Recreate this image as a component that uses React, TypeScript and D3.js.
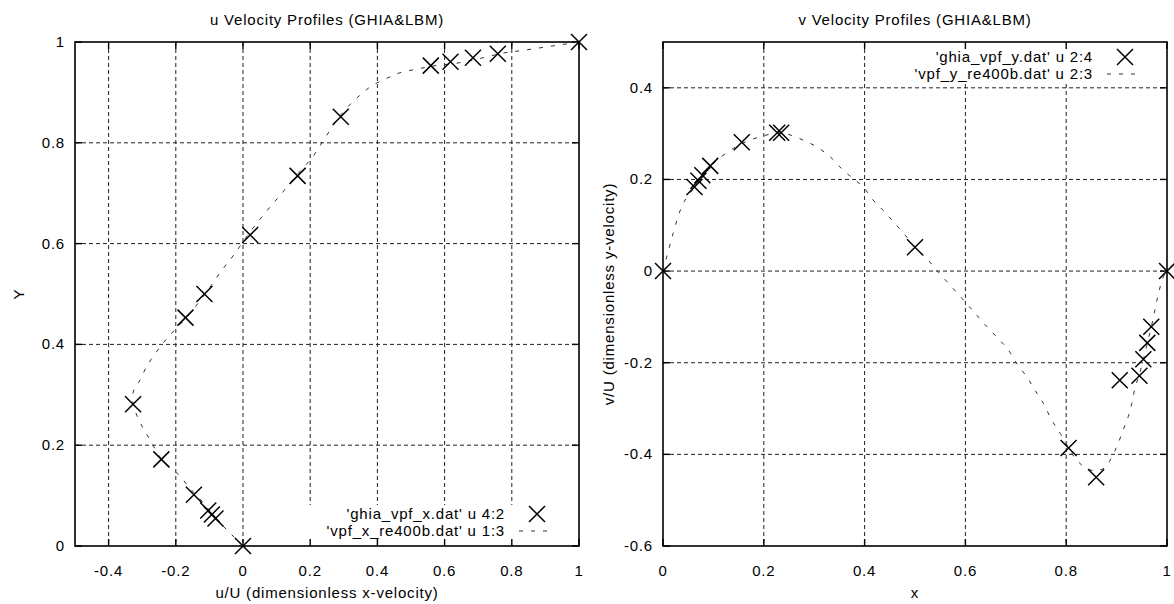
import React from "react";
import * as d3 from "d3";

// ---------- Data ----------
// Ghia et al. (Re=400) u-velocity on vertical centerline
const ghiaUY = [1.0, 0.9766, 0.9688, 0.9609, 0.9531, 0.8516, 0.7344, 0.6172, 0.5, 0.4531, 0.2813, 0.1719, 0.1016, 0.0703, 0.0625, 0.0547, 0.0];
const ghiaU = [1.0, 0.75837, 0.68439, 0.61756, 0.55892, 0.29093, 0.16256, 0.02135, -0.11477, -0.17119, -0.32726, -0.24299, -0.14612, -0.10338, -0.09266, -0.08186, 0.0];
// Ghia et al. (Re=400) v-velocity on horizontal centerline
const ghiaVX = [1.0, 0.9688, 0.9609, 0.9531, 0.9453, 0.9063, 0.8594, 0.8047, 0.5, 0.2344, 0.2266, 0.1563, 0.0938, 0.0781, 0.0703, 0.0625, 0.0];
const ghiaV = [0.0, -0.12146, -0.15663, -0.19254, -0.22847, -0.23827, -0.44993, -0.38598, 0.05186, 0.30174, 0.30203, 0.28124, 0.22965, 0.2092, 0.19713, 0.1836, 0.0];

// LBM profile u
const lbmU = [0, -0.033, -0.077, -0.117, -0.157, -0.191, -0.241, -0.276, -0.3, -0.322, -0.329, -0.322, -0.31, -0.287, -0.261, -0.226, -0.166, -0.112, -0.062, -0.028, 0.022, 0.081, 0.111, 0.16, 0.205, 0.235, 0.259, 0.283, 0.314, 0.349, 0.383, 0.428, 0.467, 0.517, 0.56, 0.636, 0.71, 0.774, 0.829, 0.9, 1.0];
const lbmUY = [0, 0.022, 0.052, 0.085, 0.114, 0.141, 0.171, 0.21, 0.237, 0.27, 0.295, 0.315, 0.325, 0.356, 0.382, 0.412, 0.455, 0.501, 0.548, 0.577, 0.624, 0.673, 0.696, 0.736, 0.77, 0.8, 0.825, 0.848, 0.873, 0.895, 0.913, 0.928, 0.939, 0.946, 0.952, 0.958, 0.968, 0.978, 0.983, 0.99, 1.0];

// LBM profile v
const lbmVX = [0, 0.011, 0.02, 0.03, 0.04, 0.054, 0.07, 0.09, 0.107, 0.14, 0.16, 0.192, 0.232, 0.25, 0.278, 0.305, 0.331, 0.354, 0.377, 0.397, 0.417, 0.44, 0.46, 0.48, 0.5, 0.523, 0.543, 0.6, 0.64, 0.685, 0.702, 0.722, 0.738, 0.755, 0.771, 0.788, 0.805, 0.821, 0.84, 0.858, 0.875, 0.887, 0.9, 0.913, 0.923, 0.93, 0.937, 0.945, 0.953, 0.96, 0.969, 0.976, 0.983, 0.993, 1.0];
const lbmV = [0, 0.046, 0.082, 0.119, 0.148, 0.17, 0.197, 0.222, 0.242, 0.268, 0.28, 0.293, 0.302, 0.298, 0.286, 0.271, 0.25, 0.224, 0.202, 0.184, 0.155, 0.129, 0.104, 0.079, 0.052, 0.028, 0.002, -0.068, -0.118, -0.172, -0.202, -0.231, -0.26, -0.289, -0.325, -0.354, -0.386, -0.413, -0.43, -0.436, -0.43, -0.413, -0.384, -0.347, -0.318, -0.289, -0.253, -0.226, -0.193, -0.162, -0.121, -0.085, -0.049, -0.012, 0];

const uXTicks = [-0.4, -0.2, 0, 0.2, 0.4, 0.6, 0.8, 1];
const uYTicks = [0, 0.2, 0.4, 0.6, 0.8, 1];
const vXTicks = [0, 0.2, 0.4, 0.6, 0.8, 1];
const vYTicks = [-0.6, -0.4, -0.2, 0, 0.2, 0.4];

const titles = ["u Velocity Profiles (GHIA&LBM)", "v Velocity Profiles (GHIA&LBM)"];
const xLabels = ["u/U (dimensionless x-velocity)", "x"];
const yLabels = ["Y", "v/U (dimensionless y-velocity)"];
const legendGhia = ["'ghia_vpf_x.dat' u 4:2", "'ghia_vpf_y.dat' u 2:4"];
const legendLbm = ["'vpf_x_re400b.dat' u 1:3", "'vpf_y_re400b.dat' u 2:3"];

const FONT = "'Liberation Sans', Arial, Helvetica, sans-serif";
const FS = 15;
const LS = "0.8px";

type PanelProps = {
  left: number; right: number; top: number; bottom: number;
  xDomain: [number, number]; yDomain: [number, number];
  xTicks: number[]; yTicks: number[];
  px: number[]; py: number[]; lx: number[]; ly: number[];
  title: string; xLabel: string; yLabel: string;
  legA: string; legB: string; legendPos: "top" | "bottom";
  yLabelX: number; boxLeft: number;
};

function fmt(v: number) {
  const r = Math.round(v * 10) / 10;
  return r === 0 ? "0" : String(r);
}

function Panel(p: PanelProps) {
  const x = d3.scaleLinear().domain(p.xDomain).range([p.left, p.right]);
  const y = d3.scaleLinear().domain(p.yDomain).range([p.bottom, p.top]);
  const pts = p.lx.map((v, i) => [x(v), y(p.ly[i])] as [number, number]);
  const line = d3.line().curve(d3.curveCatmullRom.alpha(0.5))(pts) || "";
  const tickLen = 7;
  const grid = "#222";
  const cx = (p.left + p.right) / 2;
  const cy = (p.top + p.bottom) / 2;
  const rowA = p.legendPos === "top" ? p.top + 15 : p.bottom - 32;
  const rowB = rowA + 17;
  const textRight = p.right - 74;
  const markX = p.right - 42;
  const boxTop = p.legendPos === "top" ? p.top + 1 : rowA - 9;
  const boxBot = p.legendPos === "top" ? rowB + 9 : p.bottom - 1;
  const X = (cxp: number, cyp: number, k: number, s = 8) => (
    <path key={k} d={`M${cxp - s},${cyp - s}L${cxp + s},${cyp + s}M${cxp - s},${cyp + s}L${cxp + s},${cyp - s}`} stroke="#000" strokeWidth={1.5} fill="none" />
  );
  return (
    <g fontFamily={FONT} fontSize={FS} letterSpacing={LS}>
      <text x={cx} y={25} textAnchor="middle">{p.title}</text>
      {/* grid */}
      {p.xTicks.filter(t => x(t) > p.left + 1 && x(t) < p.right - 1).map((t, i) => (
        <line key={"gx" + i} x1={x(t)} x2={x(t)} y1={p.top} y2={p.bottom} stroke={grid} strokeWidth={1} strokeDasharray="4,3" />
      ))}
      {p.yTicks.filter(t => y(t) > p.top + 1 && y(t) < p.bottom - 1).map((t, i) => (
        <line key={"gy" + i} x1={p.left} x2={p.right} y1={y(t)} y2={y(t)} stroke={grid} strokeWidth={1} strokeDasharray="4,3" />
      ))}
      {/* opaque key box */}
      <rect x={p.boxLeft} y={boxTop} width={p.right - 1 - p.boxLeft} height={boxBot - boxTop} fill="#fff" />
      {/* border */}
      <rect x={p.left} y={p.top} width={p.right - p.left} height={p.bottom - p.top} fill="none" stroke="#000" strokeWidth={1.6} />
      {/* ticks */}
      {p.xTicks.map((t, i) => (
        <g key={"tx" + i}>
          <line x1={x(t)} x2={x(t)} y1={p.bottom} y2={p.bottom - tickLen} stroke="#000" strokeWidth={1.4} />
          <line x1={x(t)} x2={x(t)} y1={p.top} y2={p.top + tickLen} stroke="#000" strokeWidth={1.4} />
          <text x={x(t)} y={576} textAnchor="middle">{fmt(t)}</text>
        </g>
      ))}
      {p.yTicks.map((t, i) => (
        <g key={"ty" + i}>
          <line x1={p.left} x2={p.left + tickLen} y1={y(t)} y2={y(t)} stroke="#000" strokeWidth={1.4} />
          <line x1={p.right} x2={p.right - tickLen} y1={y(t)} y2={y(t)} stroke="#000" strokeWidth={1.4} />
          <text x={p.left - 10} y={y(t) + 5} textAnchor="end">{fmt(t)}</text>
        </g>
      ))}
      {/* axis labels */}
      <text x={cx} y={598} textAnchor="middle">{p.xLabel}</text>
      <text transform={`translate(${p.yLabelX},${cy}) rotate(-90)`} textAnchor="middle">{p.yLabel}</text>
      {/* LBM curve */}
      <path d={line} fill="none" stroke="#333" strokeWidth={1} strokeDasharray="4,8" />
      {/* Ghia markers */}
      {p.px.map((v, i) => X(x(v), y(p.py[i]), i))}
      {/* legend */}
      <text x={textRight} y={rowA + 5} textAnchor="end">{p.legA}</text>
      {X(markX, rowA, 999)}
      <text x={textRight} y={rowB + 5} textAnchor="end">{p.legB}</text>
      <line x1={markX - 18} x2={markX + 17} y1={rowB} y2={rowB} stroke="#333" strokeWidth={1} strokeDasharray="4,8" />
    </g>
  );
}

export default function App() {
  return (
    <svg width={1174} height={604} style={{ position: "absolute", left: 0, top: 0, background: "#fff" }}>
      <rect width={1174} height={604} fill="#fff" />
      <Panel left={75} right={579} top={42} bottom={546} xDomain={[-0.5, 1]} yDomain={[0, 1]}
        xTicks={uXTicks} yTicks={uYTicks} px={ghiaU} py={ghiaUY} lx={lbmU} ly={lbmUY}
        title={titles[0]} xLabel={xLabels[0]} yLabel={yLabels[0]} legA={legendGhia[0]} legB={legendLbm[0]}
        legendPos="bottom" yLabelX={24} boxLeft={306} />
      <Panel left={663} right={1167} top={42} bottom={546} xDomain={[0, 1]} yDomain={[-0.6, 0.5]}
        xTicks={vXTicks} yTicks={vYTicks} px={ghiaVX} py={ghiaV} lx={lbmVX} ly={lbmV}
        title={titles[1]} xLabel={xLabels[1]} yLabel={yLabels[1]} legA={legendGhia[1]} legB={legendLbm[1]}
        legendPos="top" yLabelX={614} boxLeft={918} />
    </svg>
  );
}
